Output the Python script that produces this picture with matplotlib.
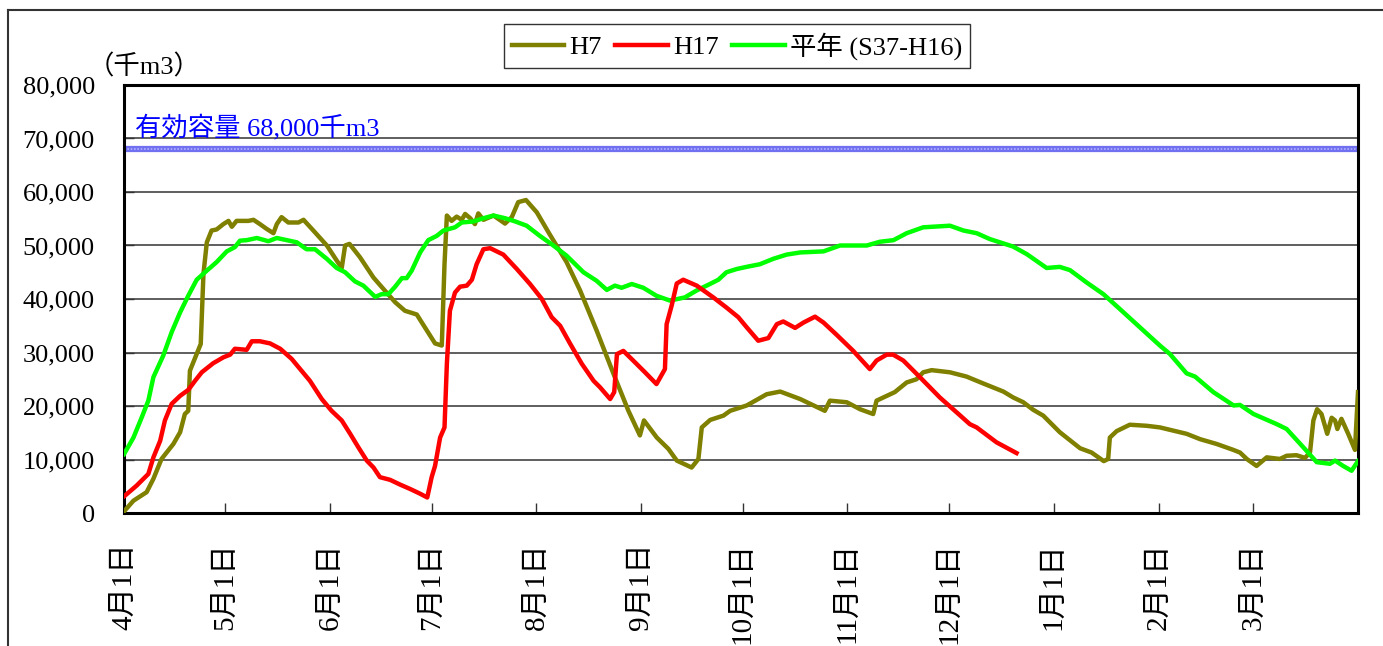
import matplotlib
matplotlib.use("Agg")
import matplotlib.pyplot as plt
from matplotlib.lines import Line2D

plt.rcParams['font.family'] = ['Liberation Serif', 'Noto Sans CJK JP']

W, H = 1383, 646

month_start = [0, 30, 61, 91, 122, 153, 183, 214, 244, 275, 306, 334]
month_names = ["4月1日", "5月1日", "6月1日", "7月1日", "8月1日", "9月1日",
               "10月1日", "11月1日", "12月1日", "1月1日", "2月1日", "3月1日"]

# H7 (days from 4/1, thousand m3)
h7_day = [0, 2.8, 6.7, 8.7, 11.1, 14.6, 16.6, 18, 19, 19.5, 21.5, 22.7, 23.5, 24.5,
          25.9, 27.4, 29.4, 30.9, 31.9, 33.3, 36.8, 38.3, 40.2, 42.2, 44.2, 45.2,
          46.6, 48.6, 51.6, 53.1, 56, 60, 62.9, 64.4, 65.4, 66.7, 69.8, 73.8, 76.7,
          80.2, 83.1, 86.6, 88.1, 92, 94, 94.8, 95.5, 96.9, 98.4, 99.9, 100.9, 102.4,
          103.8, 104.8, 106.3, 109.3, 112.7, 114.7, 116.6, 118.9, 122.1, 125.9, 130.9,
          134.9, 139.8, 144.8, 149.2, 152.6, 153.8, 157.6, 161, 163.5, 167.9, 169.9,
          170.9, 173.4, 177.3, 179.3, 184.2, 190.1, 194.1, 200, 207.3, 208.8, 213.8,
          217.7, 221.6, 222.6, 228, 231.5, 234.4, 236.4, 238.9, 244.3, 249.2, 254.2,
          260.1, 263, 266, 268.9, 271.9, 276.8, 282.8, 286.2, 289.8, 291.1, 291.6,
          293.6, 297.5, 302.5, 306.4, 310.4, 314.3, 318.3, 323.2, 328.1, 330.1, 332.1,
          335, 338, 341.9, 343.9, 346.8, 349.3, 350.8, 351.8, 352.9, 354.2, 355.9,
          357.2, 358.2, 358.9, 360.1, 362.1, 364.1, 365]
h7_val = [0.3, 2.3, 3.9, 6.4, 10.1, 12.9, 15.1, 18.5, 19.1, 26.6, 29.7, 31.6, 44.7, 50.6,
          52.8, 53.0, 54.0, 54.6, 53.5, 54.6, 54.6, 54.8, 54.0, 53.1, 52.3, 54.0,
          55.3, 54.3, 54.3, 54.8, 52.8, 50.0, 47.2, 45.8, 50.0, 50.3, 47.8, 44.0, 41.9,
          39.4, 37.8, 37.1, 35.6, 31.7, 31.3, 46.5, 55.6, 54.6, 55.4, 54.8, 55.9, 55.1,
          54.0, 56.0, 54.8, 55.6, 54.1, 55.3, 58.1, 58.5, 56.2, 52.1, 46.9,
          41.6, 34.1, 26.0, 19.1, 14.5, 17.3, 14.1, 12.0, 9.8, 8.5, 10.1,
          16.0, 17.4, 18.2, 19.1, 20.1, 22.2, 22.7, 21.3, 19.1, 21.0, 20.7,
          19.4, 18.5, 21.0, 22.6, 24.4, 25.0, 26.3, 26.7, 26.3, 25.5, 24.2,
          22.7, 21.6, 20.7, 19.3, 18.2, 15.1, 12.1, 11.3, 9.7, 10.1, 14.1,
          15.3, 16.5, 16.3, 16.0, 15.4, 14.8, 13.8, 12.9, 11.8, 11.3, 10.1,
          8.8, 10.4, 10.1, 10.7, 10.8, 10.3, 11.3, 17.3, 19.4, 18.5, 14.8,
          17.8, 17.3, 15.7, 17.6, 14.8, 11.8, 22.6]

# H17
h17_day = [0, 3.7, 7.2, 8.7, 10.7, 12.1, 14.1, 16.6, 19, 21, 23, 26.4, 29.4, 31.4, 32.8,
           36.3, 37.8, 40.2, 43.2, 46.2, 49.6, 52.1, 55, 58.5, 61.4, 64.4, 66.9, 69.3,
           71.8, 73.8, 75.7, 78.7, 81.7, 84.6, 87.6, 89.7, 91, 92, 93.5, 94.8, 95.5,
           96.4, 97.9, 99.4, 101.4, 102.9, 104.3, 106.3, 108.3, 112.2, 116.2, 120.1,
           123.6, 126.5, 129, 132, 135.4, 138.9, 140.8, 143.8, 145, 145.8, 147.7,
           150.6, 154.1, 157.5, 160, 160.5, 162, 163.5, 165.4, 169.4, 174.3, 178.2,
           181.7, 184.2, 187.6, 190.6, 193.1, 195, 198.5, 201, 204.4, 206.9, 210.8,
           215.7, 220.6, 222.6, 225.6, 227.5, 230.5, 235.4, 241.3, 246.3, 250.2,
           252.2, 258.1, 264]
h17_val = [3.1, 5.1, 7.3, 10.4, 13.5, 17.3, 20.4, 21.9, 23.0, 24.7, 26.3, 28.0, 29.1, 29.6, 30.7,
           30.5, 32.1, 32.1, 31.7, 30.7, 28.8, 26.9, 24.7, 21.3, 19.1, 17.3, 14.8, 12.3,
           9.8, 8.5, 6.7, 6.2, 5.3, 4.5, 3.6, 2.9, 6.7, 8.8, 14.1, 16.0, 27.9,
           37.8, 41.2, 42.3, 42.5, 43.6, 46.5, 49.3, 49.5, 48.3, 45.6, 42.8,
           40.0, 36.6, 35.0, 31.6, 27.9, 24.7, 23.5, 21.3, 22.6, 29.7, 30.3,
           28.5, 26.3, 24.1, 26.9, 35.3, 38.8, 42.9, 43.6, 42.5, 40.3, 38.4,
           36.6, 34.7, 32.2, 32.7, 35.3, 35.8, 34.6, 35.6, 36.7, 35.6, 33.3,
           30.3, 26.9, 28.5, 29.6, 29.6, 28.5, 25.4, 21.6, 18.8, 16.6,
           16.0, 13.2, 11.2]

# 平年 (S37-H16)
avg_day = [0, 2.8, 5.2, 7.2, 8.7, 11.6, 14.1, 16.6, 19, 21.5, 24.5, 27.4, 30.4, 32.8, 34.3,
           36.3, 39.3, 42.7, 45.2, 51.1, 54, 56.5, 60, 62.9, 65.4, 68.3, 70.8, 74.3,
           76.2, 78.2, 80.2, 82.2, 83.6, 85.1, 87.6, 90, 92.5, 94.5, 97.9, 99.9,
           103.4, 106.3, 109.3, 112.7, 115.7, 119.1, 123, 127, 130.9, 135.9, 139.8,
           142.8, 145.2, 147.2, 150.2, 153.6, 157.5, 161.5, 165.9, 169.4, 173.3,
           175.8, 178.2, 181.2, 184.1, 188.1, 192, 196, 200, 206.9, 211.8, 219.7,
           223.6, 227.6, 231.5, 236.4, 244.3, 248.3, 252.2, 256.1, 263, 267, 272.9,
           276.8, 279.8, 284.7, 289.7, 294.6, 300.5, 306.4, 309.4, 314.3, 316.8,
           322.2, 328.2, 330.1, 334.1, 341, 343.9, 348.8, 352.8, 356.7, 358.2,
           360.6, 363.1, 365]
avg_val = [11.0, 14.1, 17.8, 21.0, 25.4, 29.4, 33.8, 37.5, 40.6, 43.6, 45.3, 46.9, 48.9, 49.7, 50.9,
           51.0, 51.4, 50.8, 51.4, 50.6, 49.3, 49.3, 47.5, 45.8, 45.0, 43.3, 42.5, 40.4,
           40.9, 40.9, 42.3, 43.9, 43.9, 45.3, 48.7, 51.0, 51.8, 52.8, 53.4, 54.3,
           54.5, 55.1, 55.6, 55.1, 54.5, 53.7, 51.8, 50.0, 48.1, 45.0, 43.4,
           41.7, 42.5, 42.1, 42.8, 42.1, 40.6, 39.7, 40.3, 41.6, 42.8,
           43.6, 45.0, 45.6, 46.0, 46.5, 47.5, 48.3, 48.7, 48.9, 50.0, 50.0,
           50.7, 51.0, 52.3, 53.4, 53.7, 52.8, 52.3, 51.2, 49.8, 48.4, 45.8,
           46.0, 45.4, 43.1, 40.9, 38.1, 34.7, 31.3, 29.7, 26.1, 25.5,
           22.6, 20.1, 20.2, 18.5, 16.6, 15.7, 12.3, 9.5, 9.2, 9.8,
           8.8, 7.9, 9.7]

capacity = 68000
yticks = [0, 10000, 20000, 30000, 40000, 50000, 60000, 70000, 80000]

fs = 19

fig = plt.figure(figsize=(W / 100, H / 100), dpi=100)
fig.subplots_adjust(left=124 / W, right=1358 / W, top=1 - 85 / H, bottom=1 - 513 / H)
ax = fig.add_subplot(111)

for y in yticks[1:-1]:
    ax.axhline(y, color='#333333', lw=1.1, zorder=1)

ax.axhline(capacity, color='#7070f0', lw=4.5, zorder=2)
ax.axhline(capacity, color='#b0b0ff', lw=1.2, ls=(0, (1, 1)), zorder=2)

ax.plot(h7_day, [v * 1000 for v in h7_val], color='#808000', lw=3.2, label='H7',
        solid_joinstyle='round', zorder=3)
ax.plot(h17_day, [v * 1000 for v in h17_val], color='#ff0000', lw=3.2, label='H17',
        solid_joinstyle='round', zorder=4)
ax.plot(avg_day, [v * 1000 for v in avg_val], color='#00ff00', lw=3.2, label='平年 (S37-H16)',
        solid_joinstyle='round', zorder=3)

ax.text(3.3, 70500, "有効容量 68,000千m3", color='#0000ff', fontsize=fs, va='baseline', ha='left')

ax.set_xlim(0, 365)
ax.set_ylim(0, 80000)
ax.set_yticks(yticks)
ax.set_yticklabels([f"{v:,}" for v in yticks], fontsize=fs)
ax.set_xticks(month_start)
ax.set_xticklabels(month_names, rotation=90, fontsize=21, va='top', ha='center')
ax.tick_params(axis='both', direction='in', length=7, width=1, color='#333333')
ax.tick_params(axis='y', pad=21)
ax.tick_params(axis='x', pad=21)
for s in ax.spines.values():
    s.set_linewidth(2.2)
    s.set_color('black')

fig.text(88 / W, 1 - 67 / H, "（千m3）", fontsize=fs, va='center', ha='left')

leg = fig.legend(loc='upper center', bbox_to_anchor=(737 / W, 1 - 24 / H), ncol=3,
                 fontsize=fs, frameon=True, fancybox=False, handlelength=2.0,
                 handletextpad=0.2, columnspacing=0.5, borderpad=0.3, borderaxespad=0)
leg.get_frame().set_edgecolor('black')
leg.get_frame().set_linewidth(1.0)

fig.add_artist(Line2D([8 / W, 8 / W], [0, 1 - 10 / H], transform=fig.transFigure,
                      color='#333333', lw=1.5))
fig.add_artist(Line2D([8 / W, 1], [1 - 10 / H, 1 - 10 / H], transform=fig.transFigure,
                      color='#333333', lw=1.5))

fig.savefig("out.png", dpi=100)
